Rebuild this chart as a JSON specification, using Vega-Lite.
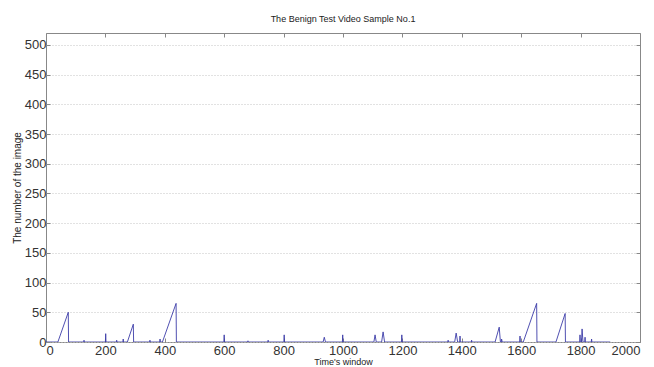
{
  "$schema": "https://vega.github.io/schema/vega-lite/v6.json",
  "width": 594,
  "height": 309,
  "autosize": {"type": "none"},
  "padding": {"left": 46, "top": 33, "right": 14, "bottom": 25},
  "background": "white",
  "title": {
    "text": "The Benign Test Video Sample No.1",
    "font": "Liberation Sans",
    "fontSize": 9,
    "fontWeight": "normal",
    "color": "#222222",
    "offset": 9,
    "anchor": "middle"
  },
  "config": {
    "view": {"stroke": "#888888", "strokeWidth": 1},
    "axis": {
      "labelFont": "Liberation Sans",
      "titleFont": "Liberation Sans",
      "labelColor": "#333333",
      "titleColor": "#222222",
      "domainColor": "#888888",
      "tickColor": "#888888"
    }
  },
  "resolve": {"axis": {"x": "independent", "y": "independent"}},
  "data": {
    "values": [
      {"t": 0, "n": 0}, {"t": 40, "n": 0}, {"t": 75, "n": 50}, {"t": 76, "n": 0},
      {"t": 127, "n": 0}, {"t": 128, "n": 3}, {"t": 129, "n": 0},
      {"t": 200, "n": 0}, {"t": 201, "n": 14}, {"t": 202, "n": 0},
      {"t": 237, "n": 0}, {"t": 238, "n": 3}, {"t": 239, "n": 0},
      {"t": 259, "n": 0}, {"t": 260, "n": 5}, {"t": 261, "n": 0},
      {"t": 274, "n": 0}, {"t": 294, "n": 30}, {"t": 295, "n": 0},
      {"t": 349, "n": 0}, {"t": 350, "n": 3}, {"t": 351, "n": 0},
      {"t": 383, "n": 0}, {"t": 384, "n": 5}, {"t": 385, "n": 0},
      {"t": 392, "n": 0}, {"t": 438, "n": 65}, {"t": 439, "n": 0},
      {"t": 599, "n": 0}, {"t": 600, "n": 12}, {"t": 601, "n": 0},
      {"t": 679, "n": 0}, {"t": 680, "n": 2}, {"t": 681, "n": 0},
      {"t": 747, "n": 0}, {"t": 748, "n": 3}, {"t": 749, "n": 0},
      {"t": 801, "n": 0}, {"t": 802, "n": 12}, {"t": 803, "n": 0},
      {"t": 933, "n": 0}, {"t": 937, "n": 8}, {"t": 941, "n": 0},
      {"t": 998, "n": 0}, {"t": 999, "n": 12}, {"t": 1000, "n": 0},
      {"t": 1104, "n": 0}, {"t": 1108, "n": 12}, {"t": 1112, "n": 0},
      {"t": 1130, "n": 0}, {"t": 1135, "n": 17}, {"t": 1140, "n": 0},
      {"t": 1197, "n": 0}, {"t": 1198, "n": 12}, {"t": 1199, "n": 0},
      {"t": 1353, "n": 0}, {"t": 1354, "n": 3}, {"t": 1355, "n": 0},
      {"t": 1376, "n": 0}, {"t": 1381, "n": 15}, {"t": 1386, "n": 0},
      {"t": 1393, "n": 0}, {"t": 1394, "n": 10}, {"t": 1395, "n": 0},
      {"t": 1432, "n": 0}, {"t": 1433, "n": 3}, {"t": 1434, "n": 0},
      {"t": 1512, "n": 0}, {"t": 1526, "n": 25}, {"t": 1530, "n": 0},
      {"t": 1533, "n": 0}, {"t": 1534, "n": 5}, {"t": 1536, "n": 0},
      {"t": 1595, "n": 0}, {"t": 1596, "n": 10}, {"t": 1597, "n": 0},
      {"t": 1607, "n": 0}, {"t": 1652, "n": 65}, {"t": 1653, "n": 0},
      {"t": 1717, "n": 0}, {"t": 1748, "n": 48}, {"t": 1749, "n": 0},
      {"t": 1797, "n": 0}, {"t": 1798, "n": 12}, {"t": 1799, "n": 0},
      {"t": 1803, "n": 0}, {"t": 1805, "n": 22}, {"t": 1808, "n": 0},
      {"t": 1814, "n": 0}, {"t": 1815, "n": 8}, {"t": 1816, "n": 0},
      {"t": 1836, "n": 0}, {"t": 1837, "n": 5}, {"t": 1838, "n": 0},
      {"t": 1900, "n": 0}
    ]
  },
  "layer": [
    {
      "mark": {"type": "line", "color": "#3c3ca8", "strokeWidth": 0.9, "clip": true},
      "encoding": {
        "x": {
          "field": "t",
          "type": "quantitative",
          "scale": {"domain": [0, 2000], "nice": false},
          "axis": {
            "values": [0, 200, 400, 600, 800, 1000, 1200, 1400, 1600, 1800, 2000],
            "format": "d",
            "title": "Time's window",
            "titleFontSize": 9,
            "titleFontWeight": "normal",
            "titlePadding": 0,
            "labelFontSize": 13,
            "labelPadding": 6,
            "tickSize": -4,
            "grid": false,
            "domain": false
          }
        },
        "y": {
          "field": "n",
          "type": "quantitative",
          "scale": {"domain": [0, 520], "nice": false},
          "axis": {
            "values": [0, 50, 100, 150, 200, 250, 300, 350, 400, 450, 500],
            "title": "The number of the image",
            "titleFontSize": 10,
            "titleFontWeight": "normal",
            "titlePadding": 2,
            "labelFontSize": 13,
            "labelPadding": 4,
            "tickSize": -4,
            "grid": true,
            "gridColor": "#c4c4c4",
            "gridDash": [1, 2],
            "gridWidth": 1,
            "domain": false
          }
        }
      }
    },
    {
      "mark": {"type": "line", "opacity": 0},
      "encoding": {
        "x": {
          "field": "t",
          "type": "quantitative",
          "axis": {
            "orient": "top",
            "values": [0, 200, 400, 600, 800, 1000, 1200, 1400, 1600, 1800, 2000],
            "labels": false,
            "title": null,
            "tickSize": -4,
            "grid": false,
            "domain": false
          }
        },
        "y": {
          "field": "n",
          "type": "quantitative",
          "axis": {
            "orient": "right",
            "values": [0, 50, 100, 150, 200, 250, 300, 350, 400, 450, 500],
            "labels": false,
            "title": null,
            "tickSize": -4,
            "grid": false,
            "domain": false
          }
        }
      }
    }
  ]
}
